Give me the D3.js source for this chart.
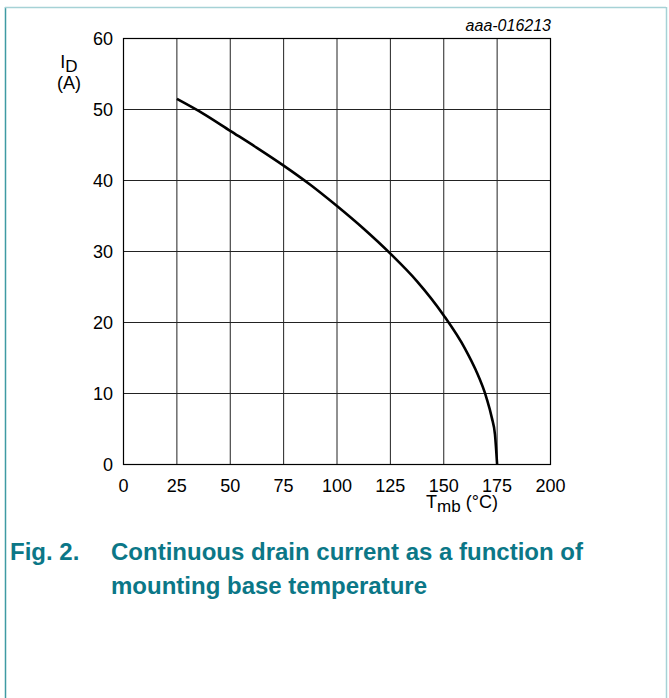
<!DOCTYPE html>
<html>
<head>
<meta charset="utf-8">
<script src="https://cdn.jsdelivr.net/npm/d3@7"></script>
<style>
  html, body { margin: 0; padding: 0; background: #fff; }
  svg { display: block; font-family: "Liberation Sans", Arial, sans-serif; }
</style>
</head>
<body>
<div id="chart"></div>
<script>
// values
const temps = [25, 37.5, 50, 62.5, 75, 87.5, 100, 112.5, 125, 137.5, 150, 160, 165, 170, 172.5, 174, 175];
const current = [51.5, 49.4, 47.0, 44.6, 42.1, 39.4, 36.4, 33.2, 29.7, 25.8, 21.0, 16.3, 13.3, 9.4, 6.6, 4.2, 0];
const xTicks = [0, 25, 50, 75, 100, 125, 150, 175, 200];
const yTicks = [0, 10, 20, 30, 40, 50, 60];

const width = 669;
const height = 698;

const svg = d3.select("#chart")
  .append("svg")
  .attr("width", width)
  .attr("height", height);

// page frame
svg.append("line").attr("x1", 5.5).attr("x2", 5.5).attr("y1", 7).attr("y2", height)
  .attr("stroke", "#3f9aa3").attr("stroke-width", 1.5);
svg.append("line").attr("x1", 5).attr("x2", 666).attr("y1", 7.5).attr("y2", 7.5)
  .attr("stroke", "#a6d2d6").attr("stroke-width", 1.5);
svg.append("line").attr("x1", 666.5).attr("x2", 666.5).attr("y1", 7).attr("y2", height)
  .attr("stroke", "#a6d2d6").attr("stroke-width", 1.5);

const x = d3.scaleLinear().domain([0, 200]).range([123.5, 550.5]);
const y = d3.scaleLinear().domain([0, 60]).range([464.5, 38.5]);

const grid = svg.append("g");
grid.selectAll(".vgrid")
  .data(xTicks)
  .enter().append("line")
  .attr("x1", d => x(d)).attr("x2", d => x(d))
  .attr("y1", y(0)).attr("y2", y(60))
  .attr("stroke", "#222").attr("stroke-width", 1);
grid.selectAll(".hgrid")
  .data(yTicks)
  .enter().append("line")
  .attr("x1", x(0)).attr("x2", x(200))
  .attr("y1", d => y(d)).attr("y2", d => y(d))
  .attr("stroke", "#222").attr("stroke-width", 1);

svg.append("rect")
  .attr("x", x(0)).attr("y", y(60))
  .attr("width", x(200) - x(0)).attr("height", y(0) - y(60))
  .attr("fill", "none").attr("stroke", "#000").attr("stroke-width", 1.2);

// tick labels
svg.append("g").selectAll("text")
  .data(yTicks)
  .enter().append("text")
  .attr("x", 113)
  .attr("y", d => y(d) + 6.5)
  .attr("text-anchor", "end")
  .attr("font-size", 18)
  .text(d => d);

svg.append("g").selectAll("text")
  .data(xTicks)
  .enter().append("text")
  .attr("x", d => x(d))
  .attr("y", 492)
  .attr("text-anchor", "middle")
  .attr("font-size", 18)
  .text(d => d);

// axis titles
const yl = svg.append("text").attr("x", 69).attr("y", 68).attr("text-anchor", "middle").attr("font-size", 18);
yl.append("tspan").text("I");
yl.append("tspan").attr("dy", 4).attr("font-size", 17).text("D");
svg.append("text").attr("x", 69).attr("y", 89).attr("text-anchor", "middle").attr("font-size", 18).text("(A)");

const xl = svg.append("text").attr("x", 462).attr("y", 508).attr("text-anchor", "middle").attr("font-size", 18);
xl.append("tspan").text("T");
xl.append("tspan").attr("dy", 4).attr("font-size", 17).text("mb");
xl.append("tspan").attr("dy", -4).text(" (°C)");

svg.append("text")
  .attr("x", 551).attr("y", 31)
  .attr("text-anchor", "end")
  .attr("font-size", 16)
  .attr("font-style", "italic")
  .text("aaa-016213");

// curve
const line = d3.line()
  .x((d, i) => x(temps[i]))
  .y(d => y(d))
  .curve(d3.curveMonotoneX);

svg.append("path")
  .datum(current)
  .attr("d", line)
  .attr("fill", "none")
  .attr("stroke", "#000")
  .attr("stroke-width", 2.6);

// caption
const teal = "#0b7787";
svg.append("text").attr("x", 10).attr("y", 560).attr("font-size", 24).attr("font-weight", "bold")
  .attr("fill", teal).text("Fig. 2.");
svg.append("text").attr("x", 111).attr("y", 560).attr("font-size", 24).attr("font-weight", "bold")
  .attr("fill", teal).text("Continuous drain current as a function of");
svg.append("text").attr("x", 111).attr("y", 594).attr("font-size", 24).attr("font-weight", "bold")
  .attr("fill", teal).text("mounting base temperature");
</script>
</body>
</html>
